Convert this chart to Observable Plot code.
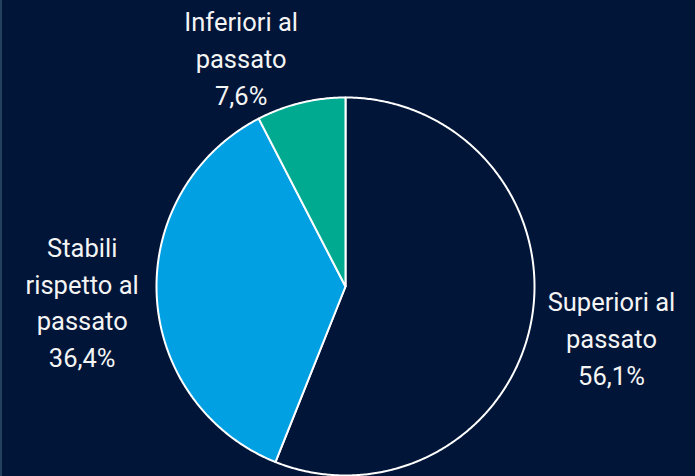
<!DOCTYPE html>
<html>
<head>
<meta charset="utf-8">
<script src="https://cdn.jsdelivr.net/npm/d3@7"></script>
<script src="https://cdn.jsdelivr.net/npm/@observablehq/plot@0.6"></script>
<style>
  html, body { margin: 0; padding: 0; background: #001538; overflow: hidden; }
  #wrap { position: relative; width: 695px; height: 476px; }
  #edge { position: absolute; left: 0; top: 0; width: 2px; height: 476px; background: #23415f; }
</style>
</head>
<body>
<div id="wrap"><div id="chart"></div><div id="edge"></div></div>
<script>
// ---- data ----
const categories = ["Superiori al passato", "Stabili rispetto al passato", "Inferiori al passato"];
const values = [56.1, 36.4, 7.6];
const valueLabels = ["56,1%", "36,4%", "7,6%"];
const labelLines = [["Superiori al", "passato"], ["Stabili", "rispetto al", "passato"], ["Inferiori al", "passato"]];
const colors = ["#001538", "#00A0E3", "#00AA91"];

// ---- layout ----
const W = 695, H = 476;
const cx = 345, cy = 286, R = 189;
const fontFamily = "Roboto, Lato, sans-serif";
const fs = 25.5, lh = 37;

const pie = d3.pie().sort(null).value(d => d.value).startAngle(0).endAngle(2 * Math.PI);
const arcs = pie(categories.map((c, i) => ({ cat: c, value: values[i], i })));

// slice outlines in unit (radius = 1) space
const slicePts = [];
for (const a of arcs) {
  const cat = a.data.cat;
  slicePts.push({ cat, x: 0, y: 0 });
  const n = Math.max(2, Math.ceil((a.endAngle - a.startAngle) / (Math.PI / 360)));
  for (let k = 0; k <= n; k++) {
    const t = a.startAngle + (a.endAngle - a.startAngle) * k / n;
    slicePts.push({ cat, x: Math.sin(t), y: Math.cos(t) });
  }
}

// label placement (outside end, clamped, pushed away from pie)
const ctx = document.createElement("canvas").getContext("2d");
ctx.font = `${fs}px ${fontFamily}`;
const gap = 18, gap2 = 10, pad = 0;
const labelData = arcs.map((a, i) => {
  const lines = [...labelLines[i], valueLabels[i]];
  const widths = lines.map(l => ctx.measureText(l).width);
  const w = Math.max(...widths), h = lines.length * lh;
  const mid = (a.startAngle + a.endAngle) / 2, s = Math.sin(mid), c = Math.cos(mid);
  let x = cx + s * (R + gap) + s * w / 2;
  let y = cy - c * (R + gap) - c * h / 2;
  y = Math.max(pad + h / 2, Math.min(H - pad - h / 2, y));
  x = Math.max(pad + w / 2, Math.min(W - 4 - w / 2, x));
  const dir = s < 0 ? -1 : 1;
  const overlaps = () => lines.some((l, j) => {
    const ly = y + (j - (lines.length - 1) / 2) * lh;
    const x0 = x - widths[j] / 2, x1 = x + widths[j] / 2, y0 = ly - fs * 0.4, y1 = ly + fs * 0.4;
    const nx = Math.max(x0, Math.min(cx, x1)), ny = Math.max(y0, Math.min(cy, y1));
    return Math.hypot(nx - cx, ny - cy) < R + gap2;
  });
  for (let k = 0; k < 400 && overlaps(); k++) x += dir;
  return { text: lines.join("\n"), x: (x - cx) / R, y: (cy - y) / R };
});

const chart = Plot.plot({
  width: W,
  height: H,
  margin: 0,
  x: { domain: [-1, 1], range: [cx - R, cx + R], axis: null },
  y: { domain: [-1, 1], range: [cy + R, cy - R], axis: null },
  color: { domain: categories, range: colors },
  style: { background: "transparent", overflow: "visible" },
  marks: [
    Plot.line(slicePts, {
      x: "x", y: "y", z: "cat", fill: "cat", curve: "linear-closed",
      stroke: "white", strokeWidth: 2, strokeLinejoin: "round"
    }),
    Plot.text(labelData, {
      x: "x", y: "y", text: "text", fill: "#f4f4f4",
      fontSize: fs, fontFamily: fontFamily, lineHeight: lh / fs,
      textAnchor: "middle", lineAnchor: "middle"
    })
  ]
});
document.getElementById("chart").appendChild(chart);
</script>
</body>
</html>
